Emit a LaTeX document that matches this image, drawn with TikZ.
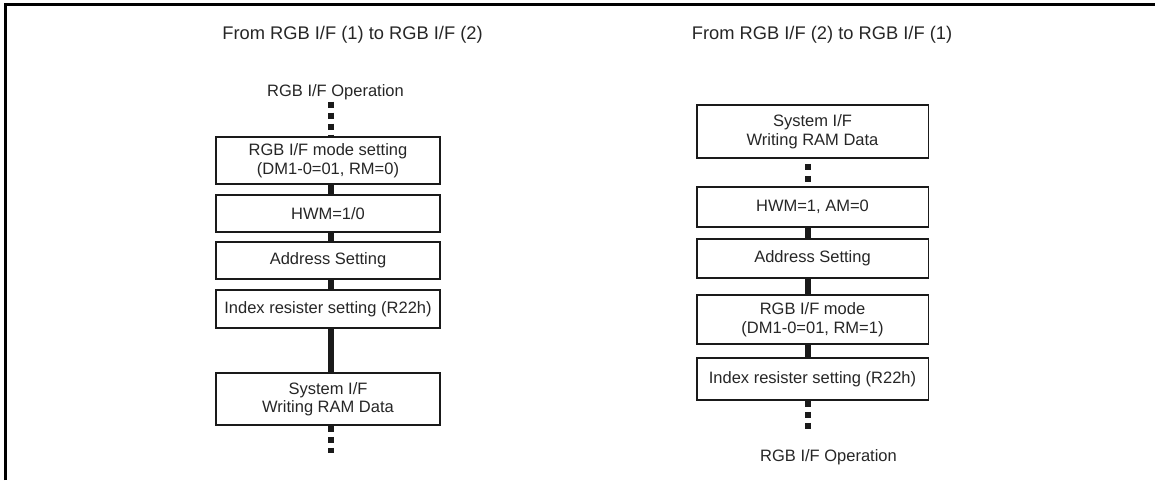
\documentclass[tikz,border=0pt]{standalone}
\usepackage{fontspec}
\setmainfont{Liberation Sans}
\definecolor{boxc}{HTML}{1A1A1A}
\definecolor{txtc}{HTML}{262626}
\definecolor{connc}{HTML}{1A1A1A}
\newcommand\myboxfont{\fontsize{16.5}{18.5}\selectfont}
\newcommand\mytitlefont{\fontsize{18.3}{20}\selectfont}
\begin{document}
\begin{tikzpicture}[x=1pt,y=-1pt,
  box/.style={draw=boxc, line width=1.5pt, inner sep=0pt, align=center, text=txtc, font=\myboxfont},
  lbox/.style={box, minimum width=224pt},
  rbox/.style={box, minimum width=231.5pt},
  conn/.style={line width=6.3pt, draw=connc},
  dotconn/.style={conn, dash pattern=on 6pt off 5pt},
  lbl/.style={inner sep=0pt, anchor=base, text=txtc, font=\myboxfont},
  ttl/.style={inner sep=0pt, anchor=base, text=txtc, font=\mytitlefont}]
\useasboundingbox (0,0) rectangle (1155,480);
\draw[line width=2.5pt] (5.5,480) -- (5.5,4.5) -- (1155,4.5);

% titles
\node[ttl] (tl) at (352.5,39.3) {From RGB I/F (1) to RGB I/F (2)};
\node[ttl] (tr) at (822,39.3) {From RGB I/F (2) to RGB I/F (1)};

% left column
\node[lbl] (lt) at (335.5,96.7) {RGB I/F Operation};
\node[lbox, minimum height=47pt] (b1) at (328,160.5) {RGB I/F mode setting\\(DM1-0=01, RM=0)};
\node[lbox, minimum height=37pt] (b2) at (328,213.5) {HWM=1/0};
\node[lbox, minimum height=37pt] (b3) at (328,260.5) {Address Setting};
\node[lbox, minimum height=38pt] (b4) at (328,309) {Index resister setting (R22h)};
\node[lbox, minimum height=52pt] (b5) at (328,399) {System I/F\\Writing RAM Data};
\coordinate (lt0) at (331,101.7);
\coordinate (lb0) at (331,453);
\draw[dotconn] (lt0) -- (lt0 |- b1.north);
\draw[conn] ([xshift=3pt]b1.south) -- ([xshift=3pt]b2.north);
\draw[conn] ([xshift=3pt]b2.south) -- ([xshift=3pt]b3.north);
\draw[conn] ([xshift=3pt]b3.south) -- ([xshift=3pt]b4.north);
\draw[conn] ([xshift=3pt]b4.south) -- ([xshift=3pt]b5.north);
\draw[dotconn] ([xshift=3pt]b5.south) -- (lb0);

% right column
\node[rbox, minimum height=53pt] (c1) at (812.5,131.5) {System I/F\\Writing RAM Data};
\node[rbox, minimum height=40pt] (c2) at (812.5,207) {HWM=1, AM=0};
\node[rbox, minimum height=39pt] (c3) at (812.5,258.5) {Address Setting};
\node[rbox, minimum height=49pt] (c4) at (812.5,319.5) {RGB I/F mode\\(DM1-0=01, RM=1)};
\node[rbox, minimum height=42pt] (c5) at (812.5,379) {Index resister setting (R22h)};
\node[lbl] (rt) at (828.5,461.7) {RGB I/F Operation};
\coordinate (rb0) at (808,430);
\draw[conn, dash pattern=on 0pt off 5pt on 6pt off 6pt on 6pt off 6pt] ([xshift=-4.5pt]c1.south) -- ([xshift=-4.5pt]c2.north);
\draw[conn] ([xshift=-4.5pt]c2.south) -- ([xshift=-4.5pt]c3.north);
\draw[conn] ([xshift=-4.5pt]c3.south) -- ([xshift=-4.5pt]c4.north);
\draw[conn] ([xshift=-4.5pt]c4.south) -- ([xshift=-4.5pt]c5.north);
\draw[dotconn] ([xshift=-4.5pt]c5.south) -- (rb0);
\end{tikzpicture}
\end{document}
